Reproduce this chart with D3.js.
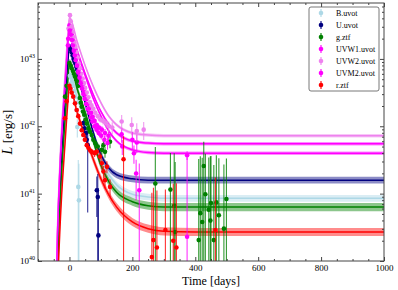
<!DOCTYPE html>
<html>
<head>
<meta charset="utf-8">
<script src="https://cdn.jsdelivr.net/npm/d3@7"></script>
<style>
  body { margin: 0; background: #fff; }
  text { font-family: "Liberation Serif", "DejaVu Serif", serif; fill: #000; }
</style>
</head>
<body>
<div id="chart-area"></div>
<script>
// band names, legend order
let bands = ["B.uvot", "U.uvot", "g.ztf", "UVW1.uvot", "UVW2.uvot", "UVM2.uvot", "r.ztf"];
let bandColors = ["#add8e6", "#000080", "#008000", "#ff00ff", "#ee82ee", "#ff00ff", "#ff0000"];

// model curves, log10 L at these times (days)
let tModel = [-42, -38, -30, -22, -14, -6, 0, 25, 50, 75, 100, 125, 150, 200, 250, 300, 400, 1000];
let modelB    = [38.9, 39.7, 40.7, 41.4, 41.95, 42.5, 42.8, 42.42, 42.08, 41.78, 41.5, 41.28, 41.13, 40.99, 40.95, 40.93, 40.93, 40.93];
let modelU    = [39.3, 40.1, 41.1, 41.8, 42.35, 42.88, 43.18, 42.78, 42.35, 41.92, 41.58, 41.38, 41.28, 41.22, 41.2, 41.2, 41.2, 41.2];
let modelG    = [39.0, 39.85, 40.85, 41.55, 42.1, 42.64, 42.94, 42.55, 42.2, 41.8, 41.42, 41.18, 41.02, 40.88, 40.82, 40.8, 40.8, 40.8];
let modelUVW1 = [39.6, 40.4, 41.4, 42.1, 42.65, 43.2, 43.5, 43.12, 42.78, 42.48, 42.22, 42.03, 41.9, 41.78, 41.75, 41.74, 41.74, 41.74];
let modelUVW2 = [39.7, 40.5, 41.5, 42.2, 42.77, 43.32, 43.62, 43.25, 42.9, 42.6, 42.35, 42.15, 42.02, 41.9, 41.87, 41.86, 41.86, 41.86];
let modelUVM2 = [39.6, 40.4, 41.4, 42.08, 42.62, 43.18, 43.48, 43.1, 42.75, 42.42, 42.15, 41.93, 41.78, 41.65, 41.61, 41.6, 41.6, 41.6];
let modelR    = [38.7, 39.5, 40.5, 41.2, 41.75, 42.3, 42.6, 42.2, 41.85, 41.52, 41.22, 40.98, 40.8, 40.58, 40.48, 40.44, 40.43, 40.43];
// half width of the model uncertainty band, dex
let modelSpread = [0.05, 0.05, 0.06, 0.025, 0.025, 0.025, 0.06];

// observations: [time, log10 L, relative error]
let obsB = [[-2,42.6,0.05],[1.6,42.75,0.05],[5,42.72,0.05],[8,42.66,0.05],[11,42.6,0.05],[14,42.52,0.05],
  [17.5,42.44,0.05],[20,42.35,0.06],[23,42.24,0.08],[25,41.99,0.3],[28,41.1,1.5],[30,40.9,2.5]];
let obsU = [[1.6,43.18,0.04],[4,43.14,0.04],[7,43.1,0.04],[10,43.05,0.04],[13,43.0,0.04],[16,42.96,0.04],
  [19,42.93,0.04],[22,42.88,0.04],[25,42.84,0.05],[28,42.78,0.05],[31,42.72,0.05],[34,42.69,0.05],
  [45,42.05,0.1],[48,41.97,0.12],[53,41.9,0.15],[55,41.8,0.2],[58,41.72,0.9],[87,41.05,0.6],[90,40.95,1.2],[92,40.38,4]];
let obsG = [[-14,42.44,0.05],[-9,42.6,0.05],[0,42.94,0.04],[4,42.9,0.04],[7,42.86,0.04],[11,42.82,0.04],
  [14,42.78,0.04],[17.5,42.74,0.04],[21,42.7,0.04],[25,42.66,0.05],[28,42.6,0.05],[33,42.42,0.05],
  [36,42.35,0.05],[39,42.29,0.06],[43,42.22,0.06],[47,42.17,0.06],[51,42.1,0.07],[55,42.04,0.07],
  [60,41.97,0.08],[65,41.92,0.08],[71,41.87,0.09],[76,41.8,0.1],[82,41.75,0.1],[90,41.7,0.12],
  [103,41.65,0.15],[108,41.72,0.15],[113,41.62,0.18],[129,41.77,0.2],
  [273,41.15,2.5],[321,41.06,2.5],[333,40.82,5],[336,40.43,10],[411,40.31,15],[416,40.71,6],
  [422,40.58,8],[427,41.41,1.3],[432,40.99,3],[443,40.76,5],[448,40.6,8],[450,40.86,4],
  [459,40.31,12],[467,40.87,4],[475,40.68,6],[491,40.48,8],[499,40.92,3]];
let obsUVW1 = [[-5,43.2,0.05],[0,43.5,0.04],[3,43.45,0.04],[6,43.37,0.04],[9,43.3,0.04],[12,43.22,0.04],
  [15,43.14,0.04],[18,43.07,0.04],[21,43.0,0.04],[25,42.92,0.05],[29,42.83,0.05],[33,42.76,0.05],
  [37,42.69,0.05],[41,42.61,0.05],[45,42.53,0.06],[49,42.47,0.06],[54,42.4,0.06],[59,42.33,0.07],
  [64,42.27,0.07],[69,42.2,0.08],[74,42.14,0.08],[80,42.08,0.09],[87,42.02,0.1],[94,41.98,0.1],
  [103,41.95,0.12],[113,41.9,0.15],[124,41.86,0.2],[166,41.88,0.25],[200,41.8,0.3],[214,41.76,0.3],
  [222,41.05,1.5],[374,41.57,0.15]];
let obsUVW2 = [[-3,43.45,0.05],[1.6,43.65,0.04],[4,43.56,0.04],[7,43.48,0.04],[10,43.4,0.04],[13,43.32,0.04],
  [16,43.24,0.04],[19,43.18,0.04],[22,43.1,0.04],[26,43.02,0.05],[30,42.93,0.05],[34,42.86,0.05],
  [38,42.78,0.05],[42,42.71,0.05],[46,42.64,0.06],[50,42.57,0.06],[55,42.5,0.06],[60,42.43,0.07],
  [65,42.36,0.07],[70,42.31,0.08],[76,42.26,0.08],[82,42.2,0.09],[90,42.15,0.1],[98,42.1,0.1],
  [107,42.08,0.12],[116,42.05,0.15],[125,42.0,0.18],[136,41.98,0.2],[166,42.07,0.25],[198,42.02,0.3],
  [214,41.93,0.3],[236,41.95,0.3]];
let obsUVM2 = [[-4,43.3,0.05],[1,43.42,0.04],[4,43.36,0.04],[8,43.28,0.04],[11,43.2,0.04],[14,43.12,0.04],
  [17,43.05,0.04],[20,42.98,0.04],[24,42.9,0.05],[28,42.8,0.05],[32,42.72,0.05],[36,42.64,0.05],
  [40,42.56,0.05],[44,42.48,0.06],[48,42.41,0.06],[53,42.33,0.06],[58,42.26,0.07],[63,42.2,0.07],
  [68,42.13,0.08],[73,42.07,0.08],[79,42.0,0.09],[86,41.95,0.1],[93,41.9,0.1],[101,41.86,0.12],
  [111,41.8,0.15],[121,41.75,0.2],[168,41.7,0.25],[205,41.6,0.3],[212,41.3,0.6],[374,40.36,14]];
let obsR = [[-14,42.12,0.05],[-9,42.37,0.05],[0,42.6,0.04],[3,42.56,0.04],[7,42.5,0.04],[12,42.44,0.04],
  [17.5,42.34,0.05],[23,42.24,0.05],[28,42.15,0.05],[33.5,42.04,0.06],[39,41.94,0.06],[44,41.87,0.07],
  [49,41.8,0.08],[55,41.72,0.08],[60,41.68,0.09],[66,41.64,0.1],[71,41.62,0.1],[80,41.6,0.12],
  [87,41.62,0.12],[97,41.55,0.15],[103,41.45,0.18],[108,41.33,0.2],[113,41.2,0.25],[119,41.4,0.2],
  [129,41.1,0.3],[172,41.51,1.2],[262,40.06,8],[267,40.31,5],[278,40.2,6],[305,40.46,3],
  [330,40.3,6],[340,40.2,8],[464,40.46,5]];

let models = [modelB, modelU, modelG, modelUVW1, modelUVW2, modelUVM2, modelR];
let observations = [obsB, obsU, obsG, obsUVW1, obsUVW2, obsUVM2, obsR];

let xTicks = [0, 200, 400, 600, 800, 1000];
let yTicks = [40, 41, 42, 43];

let margin = { left: 38, top: 3, right: 14, bottom: 29 };
let width = 398 - margin.left - margin.right;
let height = 290 - margin.top - margin.bottom;

let svg = d3.select("#chart-area")
  .append("svg")
  .attr("width", 398)
  .attr("height", 290);

let g = svg.append("g")
  .attr("transform", `translate(${margin.left}, ${margin.top})`);

let xScale = d3.scaleLinear()
  .domain([-100, 1000])
  .range([0, width]);

let yScale = d3.scaleLog()
  .domain([1e40, Math.pow(10, 43.83)])
  .range([height, 0]);

let yFloor = yScale.domain()[0] / 10;
let L = function(v){ return Math.pow(10, v); };

g.append("clipPath").attr("id", "plot-clip")
  .append("rect").attr("width", width).attr("height", height);

let plot = g.append("g").attr("clip-path", "url(#plot-clip)");

// model bands and lines
let bandArea = d3.area()
  .curve(d3.curveMonotoneX)
  .x(function(d){ return xScale(d[0]); })
  .y0(function(d){ return yScale(L(d[1] - d[2])); })
  .y1(function(d){ return yScale(L(d[1] + d[2])); });

let modelLine = d3.line()
  .curve(d3.curveMonotoneX)
  .x(function(d){ return xScale(d[0]); })
  .y(function(d){ return yScale(L(d[1])); });

models.forEach(function(m, i){
  let pts = tModel.map(function(t, j){ return [t, m[j], modelSpread[i]]; });
  plot.append("path")
    .attr("d", bandArea(pts))
    .attr("fill", bandColors[i])
    .attr("opacity", 0.45);
  plot.append("path")
    .attr("d", modelLine(pts))
    .attr("fill", "none")
    .attr("stroke", bandColors[i])
    .attr("stroke-width", 1.5);
});

// observations with error bars
observations.forEach(function(obs, i){
  let grp = plot.append("g");
  grp.selectAll("line")
    .data(obs)
    .enter().append("line")
    .attr("x1", function(d){ return xScale(d[0]); })
    .attr("x2", function(d){ return xScale(d[0]); })
    .attr("y1", function(d){ return yScale(L(d[1]) * (1 + d[2])); })
    .attr("y2", function(d){
      let lo = L(d[1]) * (1 - d[2]);
      return lo > yFloor ? yScale(lo) : height + 5;
    })
    .attr("stroke", bandColors[i])
    .attr("stroke-width", 1.1)
    .attr("opacity", 0.8);
  grp.selectAll("circle")
    .data(obs)
    .enter().append("circle")
    .attr("cx", function(d){ return xScale(d[0]); })
    .attr("cy", function(d){ return yScale(L(d[1])); })
    .attr("r", 2.3)
    .attr("fill", bandColors[i]);
});

// axes: ticks point inward on all four sides
let axisColor = "#444";

function styleAxis(sel){
  sel.select(".domain").remove();
  sel.selectAll(".tick line").attr("stroke", axisColor);
  sel.selectAll("text").attr("font-size", "9px")
    .style("font-family", "'Liberation Serif', serif").attr("fill", "#000");
}

let xMinor = d3.range(-100, 1001, 50).filter(function(v){ return xTicks.indexOf(v) < 0; });
let yMinor = [];
[40, 41, 42, 43].forEach(function(p){
  for (let k = 2; k <= 9; k++) {
    let v = k * Math.pow(10, p);
    if (v < yScale.domain()[1]) yMinor.push(v);
  }
});
let yMajor = yTicks.map(L);

g.append("g").attr("transform", `translate(0, ${height})`)
  .call(d3.axisBottom(xScale).tickValues(xTicks).tickSize(-4).tickPadding(4).tickFormat(d3.format("d")))
  .call(styleAxis);
g.append("g").attr("transform", `translate(0, ${height})`)
  .call(d3.axisBottom(xScale).tickValues(xMinor).tickSize(-2).tickFormat(""))
  .call(styleAxis);
g.append("g")
  .call(d3.axisTop(xScale).tickValues(xTicks).tickSize(-4).tickFormat(""))
  .call(styleAxis);
g.append("g")
  .call(d3.axisTop(xScale).tickValues(xMinor).tickSize(-2).tickFormat(""))
  .call(styleAxis);

g.append("g")
  .call(d3.axisLeft(yScale).tickValues(yMajor).tickSize(-4).tickFormat(""))
  .call(styleAxis);
g.append("g")
  .call(d3.axisLeft(yScale).tickValues(yMinor).tickSize(-2).tickFormat(""))
  .call(styleAxis);
g.append("g").attr("transform", `translate(${width}, 0)`)
  .call(d3.axisRight(yScale).tickValues(yMajor).tickSize(-4).tickFormat(""))
  .call(styleAxis);
g.append("g").attr("transform", `translate(${width}, 0)`)
  .call(d3.axisRight(yScale).tickValues(yMinor).tickSize(-2).tickFormat(""))
  .call(styleAxis);

// y tick labels as 10^n
yTicks.forEach(function(p){
  let t = g.append("text")
    .attr("x", -3)
    .attr("y", yScale(L(p)) + 3)
    .attr("text-anchor", "end")
    .attr("font-size", "9px");
  t.append("tspan").text("10");
  t.append("tspan").attr("font-size", "6px").attr("dy", -4).text(p);
});

// frame
g.append("rect")
  .attr("width", width)
  .attr("height", height)
  .attr("fill", "none")
  .attr("stroke", axisColor)
  .attr("stroke-width", 1);

// axis labels
let yLabel = g.append("text")
  .attr("text-anchor", "middle")
  .attr("transform", `translate(${-26}, ${height / 2}) rotate(-90)`)
  .attr("font-size", "14px");
yLabel.append("tspan").attr("font-style", "italic").text("L");
yLabel.append("tspan").attr("font-size", "13px").text(" [erg/s]");

g.append("text")
  .attr("text-anchor", "middle")
  .attr("x", width / 2)
  .attr("y", height + 24)
  .attr("font-size", "12px")
  .text("Time [days]");

// legend
let legend = svg.append("g").attr("transform", "translate(309, 7)");
legend.append("rect")
  .attr("width", 70)
  .attr("height", 84)
  .attr("rx", 2)
  .attr("fill", "#fff")
  .attr("stroke", "#555")
  .attr("stroke-width", 0.8);

bands.forEach(function(name, i){
  let row = legend.append("g").attr("transform", `translate(12, ${6 + i * 12})`);
  row.append("line")
    .attr("y1", -4).attr("y2", 4)
    .attr("stroke", bandColors[i]).attr("stroke-width", 1.1);
  row.append("circle").attr("r", 2.3).attr("fill", bandColors[i]);
  row.append("text")
    .attr("x", 15)
    .attr("y", 3)
    .attr("font-size", "8px")
    .text(name);
});
</script>
</body>
</html>
